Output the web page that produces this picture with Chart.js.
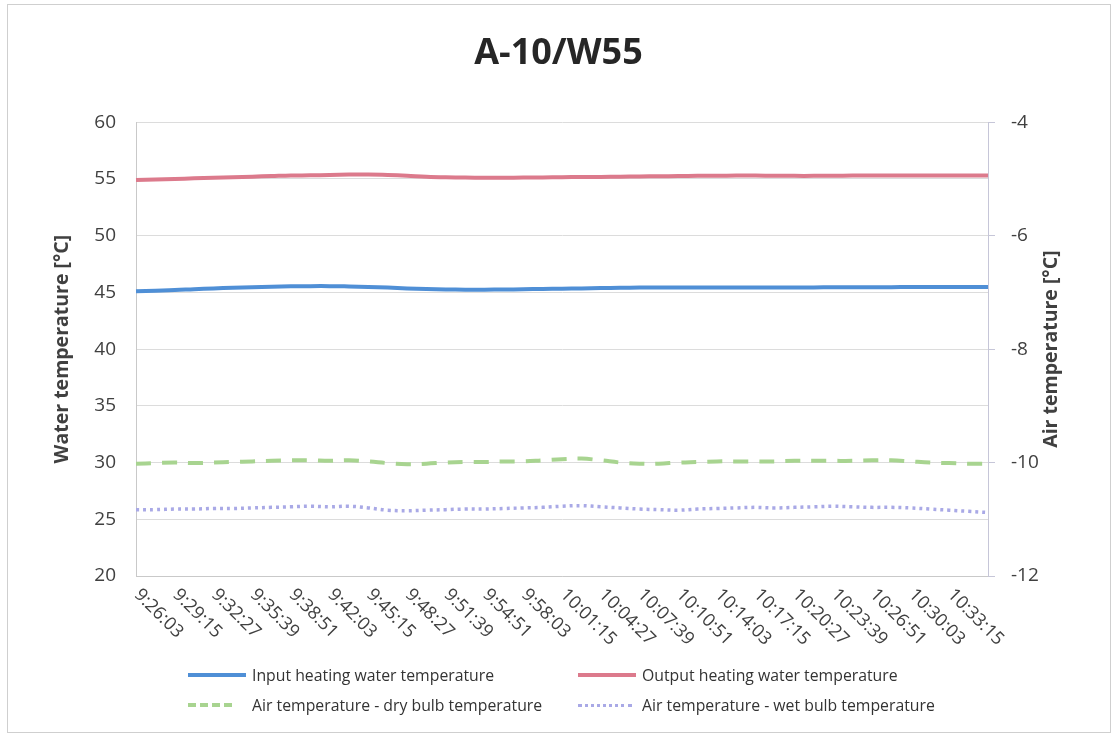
<!DOCTYPE html>
<html>
<head>
<meta charset="utf-8">
<script src="https://cdn.jsdelivr.net/npm/chart.js@4.4.0/dist/chart.umd.min.js"></script>
<style>
  html, body { margin: 0; padding: 0; background: #fff; }
  #wrap { position: relative; width: 1117px; height: 736px; font-family: 'Open Sans', sans-serif; }
  #frame { position: absolute; left: 7px; top: 4px; right: 6px; bottom: 3px; border: 1px solid #cfcfcf; }
  #chart { position: absolute; left: 0; top: 0; }
  .leg { position: absolute; display: flex; align-items: center; font-size: 15.8px; color: #333; white-space: nowrap; }
  .leg .s { width: 58px; margin-right: 6px; }
</style>
</head>
<body>
<div id="wrap">
  <div id="frame"></div>
  <canvas id="chart" width="1117" height="736"></canvas>
  <div class="leg" style="left:188px; top:664px"><span class="s" style="border-top:4px solid #4f8fd6"></span>Input heating water temperature</div>
  <div class="leg" style="left:578px; top:664px"><span class="s" style="border-top:4px solid #dc7a8c"></span>Output heating water temperature</div>
  <div class="leg" style="left:188px; top:694px"><span class="s" style="border-top:4px dashed #a8d490; width:44px; margin-right:20px"></span>Air temperature - dry bulb temperature</div>
  <div class="leg" style="left:578px; top:694px"><span class="s" style="border-top:3px dotted #a9a9e6; width:54px; margin-right:10px"></span>Air temperature - wet bulb temperature</div>
</div>
<script>
// Zeitpunkte der Messwerte (alle 96 s)
const categories = [
  '9:26:03', '9:27:39', '9:29:15', '9:30:51', '9:32:27', '9:34:03', '9:35:39', '9:37:15', '9:38:51',
  '9:40:27', '9:42:03', '9:43:39', '9:45:15', '9:46:51', '9:48:27', '9:50:03', '9:51:39', '9:53:15',
  '9:54:51', '9:56:27', '9:58:03', '9:59:39', '10:01:15', '10:02:51', '10:04:27', '10:06:03', '10:07:39',
  '10:09:15', '10:10:51', '10:12:27', '10:14:03', '10:15:39', '10:17:15', '10:18:51', '10:20:27',
  '10:22:03', '10:23:39', '10:25:15', '10:26:51', '10:28:27', '10:30:03', '10:31:39', '10:33:15',
  '10:34:51', '10:36:27'
];

// Beschriftete Zeitpunkte auf der x-Achse
const tickLabels = [
  '9:26:03', '9:29:15', '9:32:27', '9:35:39', '9:38:51', '9:42:03', '9:45:15', '9:48:27', '9:51:39',
  '9:54:51', '9:58:03', '10:01:15', '10:04:27', '10:07:39', '10:10:51', '10:14:03', '10:17:15',
  '10:20:27', '10:23:39', '10:26:51', '10:30:03', '10:33:15'
];

// Wassertemperaturen [°C] (linke Achse)
const inputWater = [
  45.10, 45.15, 45.20, 45.28, 45.35, 45.40, 45.45, 45.50, 45.53, 45.55, 45.55, 45.52, 45.48, 45.42, 45.35,
  45.30, 45.26, 45.24, 45.24, 45.25, 45.28, 45.30, 45.32, 45.35, 45.38, 45.40, 45.42, 45.43, 45.43, 45.42,
  45.42, 45.42, 45.43, 45.43, 45.44, 45.44, 45.45, 45.45, 45.46, 45.46, 45.47, 45.47, 45.48, 45.48, 45.48
];
const outputWater = [
  54.90, 54.95, 55.00, 55.05, 55.10, 55.15, 55.20, 55.25, 55.30, 55.32, 55.35, 55.38, 55.40, 55.35, 55.28,
  55.20, 55.15, 55.12, 55.10, 55.10, 55.12, 55.13, 55.15, 55.17, 55.18, 55.20, 55.22, 55.24, 55.25, 55.27,
  55.28, 55.30, 55.30, 55.28, 55.27, 55.27, 55.28, 55.30, 55.30, 55.30, 55.30, 55.30, 55.30, 55.30, 55.30
];

// Lufttemperaturen [°C] (rechte Achse)
const dryBulb = [
  -10.02, -10.01, -10.00, -10.01, -10.00, -9.99, -9.98, -9.97, -9.96, -9.96, -9.97, -9.96, -9.98, -10.01, -10.03,
  -10.02, -10.00, -9.99, -9.99, -9.98, -9.98, -9.96, -9.94, -9.93, -9.96, -10.00, -10.02, -10.02, -10.00, -9.99,
  -9.98, -9.98, -9.98, -9.98, -9.97, -9.97, -9.97, -9.97, -9.96, -9.96, -9.98, -10.00, -10.01, -10.02, -10.02
];
const wetBulb = [
  -10.83, -10.83, -10.82, -10.82, -10.81, -10.81, -10.80, -10.79, -10.78, -10.77, -10.78, -10.77, -10.80, -10.84, -10.85,
  -10.84, -10.83, -10.82, -10.82, -10.81, -10.80, -10.79, -10.77, -10.76, -10.78, -10.80, -10.82, -10.83, -10.84, -10.82,
  -10.81, -10.80, -10.79, -10.80, -10.79, -10.78, -10.77, -10.78, -10.79, -10.79, -10.80, -10.82, -10.84, -10.86, -10.88
];

const FONT = "'Open Sans', sans-serif";
const TEXT = '#404040';

// Achsentitel und gedrehte x-Beschriftungen selbst zeichnen (wie in Excel)
const excelText = {
  id: 'excelText',
  afterDraw(chart) {
    const { ctx, scales } = chart;
    const xs = scales.x;
    ctx.save();
    ctx.fillStyle = TEXT;
    ctx.font = `18px ${FONT}`;
    ctx.textAlign = 'left';
    ctx.textBaseline = 'middle';
    tickLabels.forEach(lbl => {
      const x = xs.getPixelForValue(categories.indexOf(lbl));
      ctx.save();
      ctx.translate(x + 1, xs.top + 16);
      ctx.rotate(Math.PI / 4);
      ctx.fillText(lbl, 0, 0);
      ctx.restore();
    });

    ctx.font = `bold 19.5px ${FONT}`;
    ctx.textAlign = 'center';
    const midY = (chart.chartArea.top + chart.chartArea.bottom) / 2;
    [[62, 'Water temperature [°C]'], [1051, 'Air temperature [°C]']].forEach(([x, t]) => {
      ctx.save();
      ctx.translate(x, midY);
      ctx.rotate(-Math.PI / 2);
      ctx.fillText(t, 0, 0);
      ctx.restore();
    });
    ctx.restore();
  },
};

const lineDs = (label, data, color, axis, extra) => ({
  label, data, borderColor: color, backgroundColor: color, yAxisID: axis,
  borderWidth: 4, pointRadius: 0, tension: 0.4, ...extra,
});

new Chart(document.getElementById('chart'), {
  type: 'line',
  data: {
    labels: categories,
    datasets: [
      lineDs('Input heating water temperature', inputWater, '#4f8fd6', 'y'),
      lineDs('Output heating water temperature', outputWater, '#dc7a8c', 'y'),
      lineDs('Air temperature - dry bulb temperature', dryBulb, '#a8d490', 'y2', { borderDash: [15, 11] }),
      lineDs('Air temperature - wet bulb temperature', wetBulb, '#a9a9e6', 'y2', { borderWidth: 3.5, borderDash: [3, 4] }),
    ],
  },
  options: {
    responsive: false,
    animation: false,
    layout: { padding: 0 },
    plugins: {
      legend: { display: false },
      tooltip: { enabled: false },
      title: {
        display: true,
        text: 'A-10/W55',
        color: '#262626',
        font: { family: FONT, size: 36, weight: 'bold' },
        padding: { top: 32, bottom: 47 },
      },
    },
    scales: {
      x: {
        ticks: { display: false },
        grid: { display: false },
        border: { color: '#c9c9c9' },
        afterFit: s => { s.height = 160; },
      },
      y: {
        position: 'left',
        min: 20, max: 60,
        ticks: { stepSize: 5, color: TEXT, padding: 20, font: { family: FONT, size: 19 } },
        grid: { color: '#dcdcdc', drawTicks: false },
        border: { color: '#c9c9c9' },
        afterFit: s => { s.width = 136; },
      },
      y2: {
        position: 'right',
        min: -12, max: -4,
        ticks: { stepSize: 2, color: TEXT, padding: 16, font: { family: FONT, size: 19 } },
        grid: { drawOnChartArea: false, tickLength: 7, color: '#c6c6d8' },
        border: { color: '#c6c6d8' },
        afterFit: s => { s.width = 129; },
      },
    },
  },
  plugins: [excelText],
});
</script>
</body>
</html>
